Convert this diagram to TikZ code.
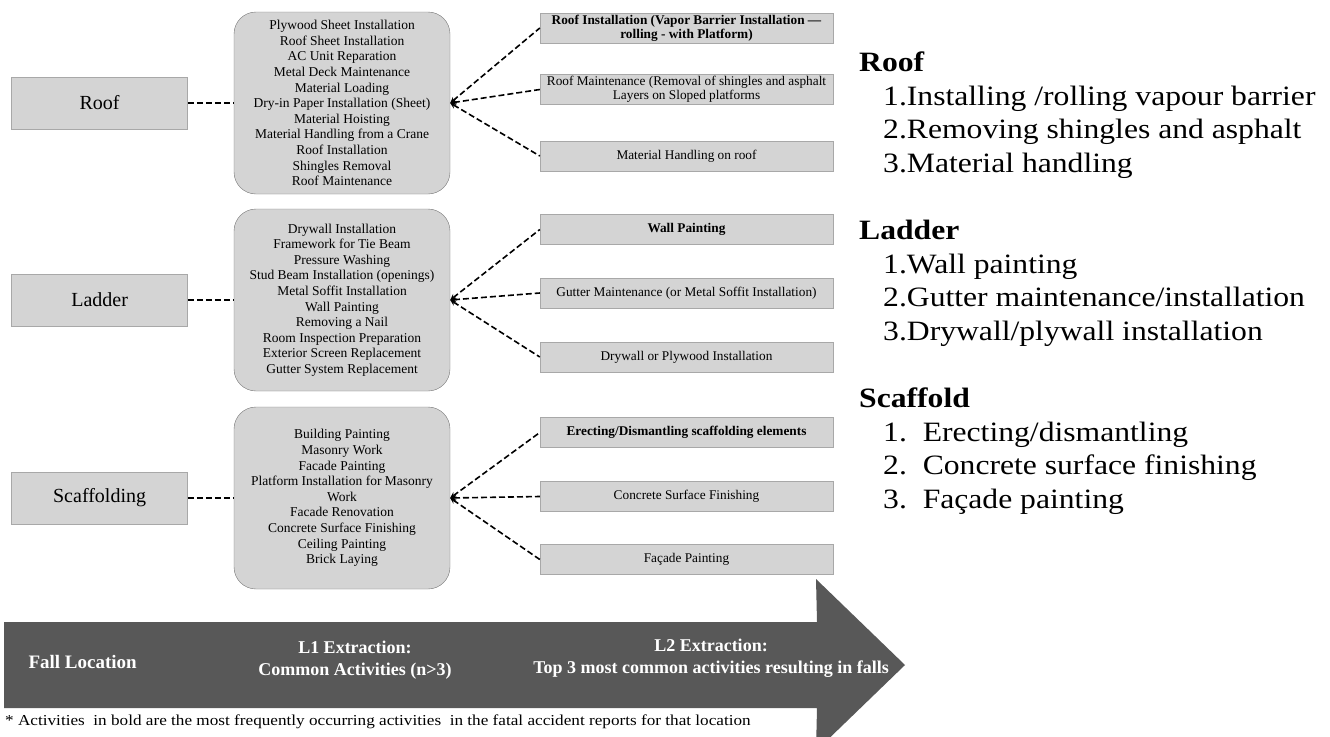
\documentclass[tikz,border=0pt]{standalone}
\usepackage{fontspec}
\setmainfont{Liberation Serif}
\newfontfamily\listfont[FakeStretch=1.13]{Liberation Serif}
\usepackage{tikz}
\usetikzlibrary{positioning, shapes.geometric, arrows}
\definecolor{boxgray}{HTML}{D4D4D4}
\definecolor{edgegray}{HTML}{A8A8A8}
\definecolor{arrowgray}{HTML}{585858}
\tikzstyle{location} = [rectangle, fill=boxgray, draw=edgegray, minimum width=176pt, minimum height=52pt, font=\fontsize{20}{24}\selectfont]
\tikzstyle{common} = [rectangle, rounded corners=22pt, fill=boxgray, draw=edgegray!70!black, minimum width=216pt, minimum height=182pt, align=center, font=\fontsize{13.5}{15.6}\selectfont]
\tikzstyle{topact} = [rectangle, fill=boxgray, draw=edgegray, minimum width=293pt, minimum height=30pt, inner sep=1pt, align=center, font=\fontsize{13.3}{14}\selectfont]
\tikzstyle{link} = [line width=1.6pt, dash pattern=on 6pt off 3pt]
\tikzstyle{arrow} = [link,<-,>=stealth]

\begin{document}
\begin{tikzpicture}[x=1pt, y=-1pt,
listtext/.style={anchor=north west, align=left, inner sep=0pt, font=\listfont\fontsize{28}{33.5}\selectfont},
bandtext/.style={text=white, align=center, font=\bfseries\fontsize{18}{22}\selectfont}
]
\useasboundingbox (0,0) rectangle (1330,736);

\node[common] (roofAct) at (342,103) {Plywood Sheet Installation\\Roof Sheet Installation\\AC Unit Reparation\\Metal Deck Maintenance\\Material Loading\\Dry-in Paper Installation (Sheet)\\Material Hoisting\\Material Handling from a Crane\\Roof Installation\\Shingles Removal\\Roof Maintenance};
\node[common] (ladderAct) at (342,300) {Drywall Installation\\Framework for Tie Beam\\Pressure Washing\\Stud Beam Installation (openings)\\Metal Soffit Installation\\Wall Painting\\Removing a Nail\\Room Inspection Preparation\\Exterior Screen Replacement\\Gutter System Replacement};
\node[common] (scaffAct) at (342,498) {Building Painting\\Masonry Work\\Facade Painting\\Platform Installation for Masonry\\Work\\Facade Renovation\\Concrete Surface Finishing\\Ceiling Painting\\Brick Laying};

\node[location] (roof) [left=46pt of roofAct] {Roof};
\node[location] (ladder) [left=46pt of ladderAct] {Ladder};
\node[location] (scaff) [left=46pt of scaffAct] {Scaffolding};

\node[topact, font=\fontsize{13.3}{14}\selectfont\bfseries] (roofA) at (686.5,28) {Roof Installation (Vapor Barrier Installation ---\\rolling - with Platform)};
\node[topact] (roofB) at (686.5,89.5) {Roof Maintenance (Removal of shingles and asphalt\\Layers on Sloped platforms};
\node[topact] (roofC) at (686.5,156) {Material Handling on roof};
\node[topact, font=\fontsize{13.3}{14}\selectfont\bfseries] (ladderA) at (686.5,229.5) {Wall Painting};
\node[topact] (ladderB) at (686.5,293) {Gutter Maintenance (or Metal Soffit Installation)};
\node[topact] (ladderC) at (686.5,357) {Drywall or Plywood Installation};
\node[topact, font=\fontsize{13.3}{14}\selectfont\bfseries] (scaffA) at (686.5,432.5) {Erecting/Dismantling scaffolding elements};
\node[topact] (scaffB) at (686.5,496.5) {Concrete Surface Finishing};
\node[topact] (scaffC) at (686.5,559.5) {Façade Painting};

\draw[link] (roof) -- (roofAct);
\draw[link] (ladder) -- (ladderAct);
\draw[link] (scaff) -- (scaffAct);
\foreach \g in {roof,ladder,scaff}
  \foreach \t in {A,B,C}
    \draw[arrow] (\g Act.east) -- (\g\t.west);

\fill[arrowgray] (4,622) -- (817,622) -- (816,579) -- (905,665) -- (816,751) -- (817,708) -- (4,708) -- cycle;
\node[bandtext, anchor=west, font=\bfseries\fontsize{19}{22}\selectfont] (fall) at (25,662) {Fall Location};
\node[bandtext] (levelOne) at (355,660) {L1 Extraction:\\Common Activities (n>3)};
\node[bandtext] (levelTwo) at (711,658) {L2 Extraction:\\Top 3 most common activities resulting in falls};
\node[anchor=west, inner sep=0pt, font=\listfont\fontsize{15.2}{17}\selectfont] (note) at (5,722) {* Activities\ \ in bold are the most frequently occurring activities\ \ in the fatal accident reports for that location};

\node[listtext] (roofList) at (859,52) {{\bfseries Roof}\\\hspace*{24pt}1.Installing /rolling vapour barrier\\\hspace*{24pt}2.Removing shingles and asphalt\\\hspace*{24pt}3.Material handling};
\node[listtext] (ladderList) at (859,220) {{\bfseries Ladder}\\\hspace*{24pt}1.Wall painting\\\hspace*{24pt}2.Gutter maintenance/installation\\\hspace*{24pt}3.Drywall/plywall installation};
\node[listtext] (scaffList) at (859,388) {{\bfseries Scaffold}\\\hspace*{24pt}1.\ \ Erecting/dismantling\\\hspace*{24pt}2.\ \ Concrete surface finishing\\\hspace*{24pt}3.\ \ Façade painting};
\end{tikzpicture}
\end{document}
